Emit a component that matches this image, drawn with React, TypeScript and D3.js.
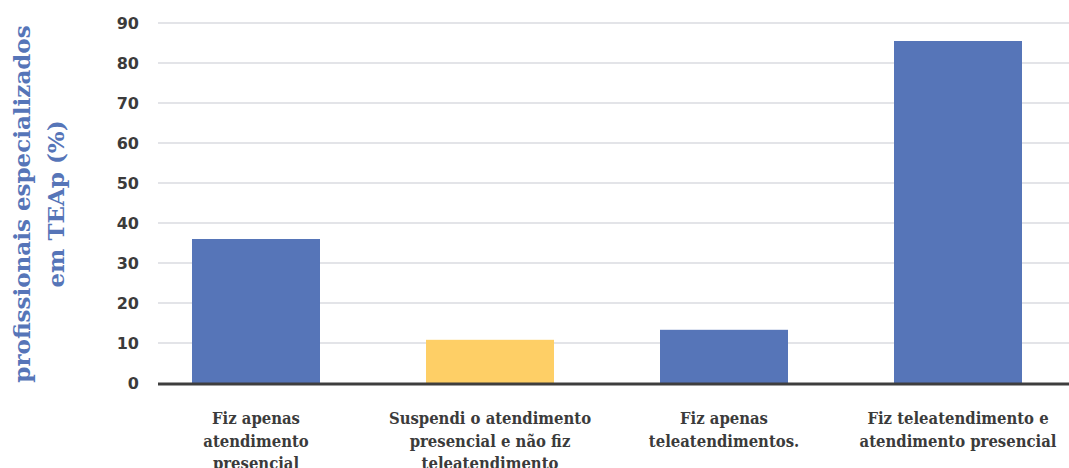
import React from "react";
import * as d3 from "d3";

// Respostas dos profissionais especializados em TEAp (%)
const categories: string[][] = [
  ["Fiz apenas", "atendimento", "presencial"],
  ["Suspendi o atendimento", "presencial e não fiz", "teleatendimento"],
  ["Fiz apenas", "teleatendimentos."],
  ["Fiz teleatendimento e", "atendimento presencial"],
];
const values: number[] = [36, 10.8, 13.3, 85.5];
const barColors: string[] = ["#5675b8", "#fecf66", "#5675b8", "#5675b8"];
const yTicks: number[] = [0, 10, 20, 30, 40, 50, 60, 70, 80, 90];
const yTitle: string[] = ["profissionais especializados", "em TEAp (%)"];

const W = 1069;
const H = 468;
const slab = "'DejaVu Serif Condensed', 'DejaVu Serif', serif";

export default function App() {
  const y = d3.scaleLinear().domain([0, 90]).range([383, 23]);
  const x = d3
    .scaleBand<number>()
    .domain(values.map((_, i) => i))
    .range([139, 1075])
    .paddingInner(0.453)
    .paddingOuter(0.2265);
  const gridX0 = 158;
  const gridX1 = W;

  return (
    <svg
      width={W}
      height={H}
      style={{ position: "absolute", left: 0, top: 0, background: "#fff" }}
    >
      {yTicks.map((t) => (
        <g key={t}>
          {t > 0 && (
            <line
              x1={gridX0}
              x2={gridX1}
              y1={y(t)}
              y2={y(t)}
              stroke="#e3e4e8"
              strokeWidth={2}
            />
          )}
          <text
            x={139}
            y={y(t)}
            dy="0.36em"
            textAnchor="end"
            fontFamily="'DejaVu Sans', sans-serif"
            fontWeight="bold"
            fontSize={16}
            fill="#3b3b3b"
          >
            {t}
          </text>
        </g>
      ))}

      {values.map((v, i) => (
        <rect
          key={i}
          x={x(i)}
          y={y(v)}
          width={x.bandwidth()}
          height={y(0) - y(v)}
          fill={barColors[i]}
        />
      ))}

      <line
        x1={gridX0}
        x2={gridX1}
        y1={y(0) + 1}
        y2={y(0) + 1}
        stroke="#3e3e3e"
        strokeWidth={3}
      />

      {categories.map((lines, i) => (
        <text
          key={i}
          x={(x(i) as number) + x.bandwidth() / 2}
          textAnchor="middle"
          fontFamily={slab}
          fontWeight="bold"
          fontSize={16.5}
          fill="#3b3b3b"
        >
          {lines.map((l, j) => (
            <tspan key={j} x={(x(i) as number) + x.bandwidth() / 2} y={424 + j * 22.5}>
              {l}
            </tspan>
          ))}
        </text>
      ))}

      <text
        transform="translate(0,204) rotate(-90)"
        textAnchor="middle"
        fontFamily="'DejaVu Serif', serif"
        fontWeight="bold"
        fontSize={23}
        fill="#5675b8"
      >
        <tspan x={0} y={30}>
          {yTitle[0]}
        </tspan>
        <tspan x={0} y={64}>
          {yTitle[1]}
        </tspan>
      </text>
    </svg>
  );
}
